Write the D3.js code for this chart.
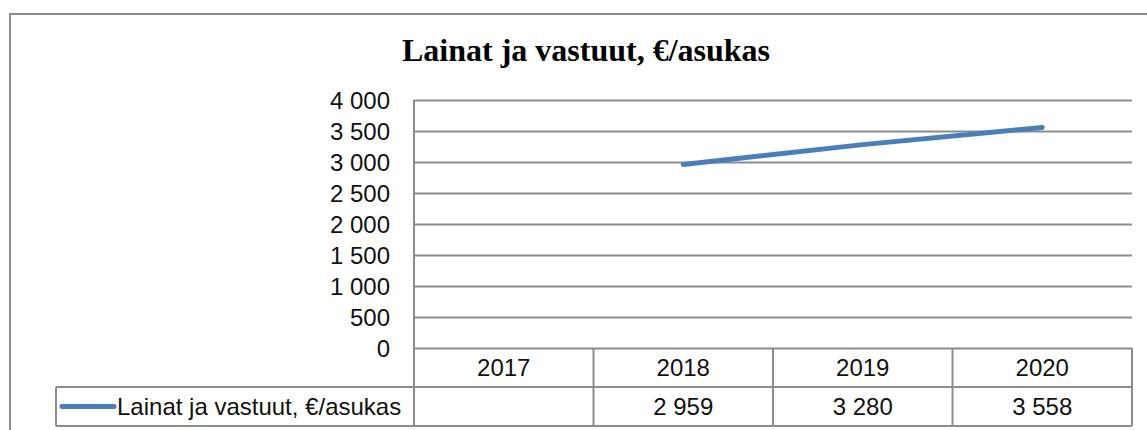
<!DOCTYPE html>
<meta charset="utf-8">
<script src="https://d3js.org/d3.v7.min.js"></script>
<style>
  body { margin: 0; background: #fff; }
  .grid line, .grid path, .tbl { stroke: #8c8c8c; stroke-width: 2; }
  .grid path { display: none; }
  .grid text, .cell { font-family: "Liberation Sans", Arial, sans-serif; font-size: 24px; fill: #111; }
  .title { font-family: "Liberation Serif", "Times New Roman", serif; font-weight: bold; font-size: 32px; fill: #000; }
</style>
<body>
<script>

// data
var years = ["2017", "2018", "2019", "2020"];
var values = [null, 2959, 3280, 3558];
var seriesName = "Lainat ja vastuut, €/asukas";
var yTicks = [0, 500, 1000, 1500, 2000, 2500, 3000, 3500, 4000];

var W = 1147, H = 430;
var plot = {left: 414, right: 1132, top: 100, bottom: 348};
var rowH = 39;

var fmt = d3.formatLocale({decimal: ",", thousands: "\u00a0", grouping: [3], currency: ["", "€"]}).format(",d");

var svg = d3.select("body").append("svg")
    .attr("width", W)
    .attr("height", H);

// outer chart border (runs off the right/bottom of the window)
svg.append("rect")
    .attr("x", 10).attr("y", 14)
    .attr("width", W + 20).attr("height", H + 20)
    .attr("fill", "none")
    .attr("stroke", "#8c8c8c")
    .attr("stroke-width", 2);

var x = d3.scaleBand()
    .domain(years)
    .range([plot.left, plot.right]);
var y = d3.scaleLinear()
    .domain([0, 4000])
    .range([plot.bottom, plot.top]);

svg.append("text")
    .attr("class", "title")
    .attr("x", 586)
    .attr("y", 61)
    .attr("text-anchor", "middle")
    .text(seriesName);

// gridlines + y labels
svg.append("g")
    .attr("class", "grid")
    .attr("transform", "translate(" + plot.left + ",0)")
    .call(d3.axisLeft(y)
      .tickValues(yTicks)
      .tickSize(-(plot.right - plot.left))
      .tickPadding(24)
      .tickFormat(fmt))
    .call(function(g) { g.selectAll("text").attr("dy", "0.36em"); });

// data table
var tbl = svg.append("g").attr("fill", "none");
var r1 = plot.bottom, r2 = plot.bottom + rowH, r3 = plot.bottom + 2 * rowH;
var legendLeft = 56;

tbl.append("line").attr("class", "tbl")
    .attr("x1", plot.left).attr("x2", plot.left)
    .attr("y1", plot.top).attr("y2", r3);
years.forEach(function(yr) {
  tbl.append("line").attr("class", "tbl")
      .attr("x1", x(yr) + x.bandwidth()).attr("x2", x(yr) + x.bandwidth())
      .attr("y1", r1).attr("y2", r3);
});
[r2, r3].forEach(function(ry) {
  tbl.append("line").attr("class", "tbl")
      .attr("x1", legendLeft).attr("x2", plot.right)
      .attr("y1", ry).attr("y2", ry);
});
tbl.append("line").attr("class", "tbl")
    .attr("x1", legendLeft).attr("x2", legendLeft)
    .attr("y1", r2).attr("y2", r3);

svg.append("g").selectAll("text")
    .data(years)
    .join("text")
    .attr("class", "cell")
    .attr("x", function(d) { return x(d) + x.bandwidth() / 2; })
    .attr("y", (r1 + r2) / 2)
    .attr("dy", "0.36em")
    .attr("text-anchor", "middle")
    .text(function(d) { return d; });

svg.append("g").selectAll("text")
    .data(values)
    .join("text")
    .attr("class", "cell")
    .attr("x", function(d, i) { return x(years[i]) + x.bandwidth() / 2; })
    .attr("y", (r2 + r3) / 2)
    .attr("dy", "0.36em")
    .attr("text-anchor", "middle")
    .text(function(d) { return d == null ? "" : fmt(d); });

// legend key
var ly = (r2 + r3) / 2;
svg.append("line")
    .attr("x1", 62).attr("x2", 114)
    .attr("y1", ly).attr("y2", ly)
    .attr("stroke", "#4a7ebb")
    .attr("stroke-width", 5)
    .attr("stroke-linecap", "round");
svg.append("text")
    .attr("class", "cell")
    .attr("x", 117)
    .attr("y", ly)
    .attr("dy", "0.36em")
    .text(seriesName);

// series line
var line = d3.line()
    .defined(function(d) { return d != null; })
    .x(function(d, i) { return x(years[i]) + x.bandwidth() / 2; })
    .y(function(d) { return y(d); });
svg.append("path")
    .datum(values)
    .attr("d", line)
    .attr("fill", "none")
    .attr("stroke", "#4a7ebb")
    .attr("stroke-width", 5)
    .attr("stroke-linecap", "round");

</script>
</body>
